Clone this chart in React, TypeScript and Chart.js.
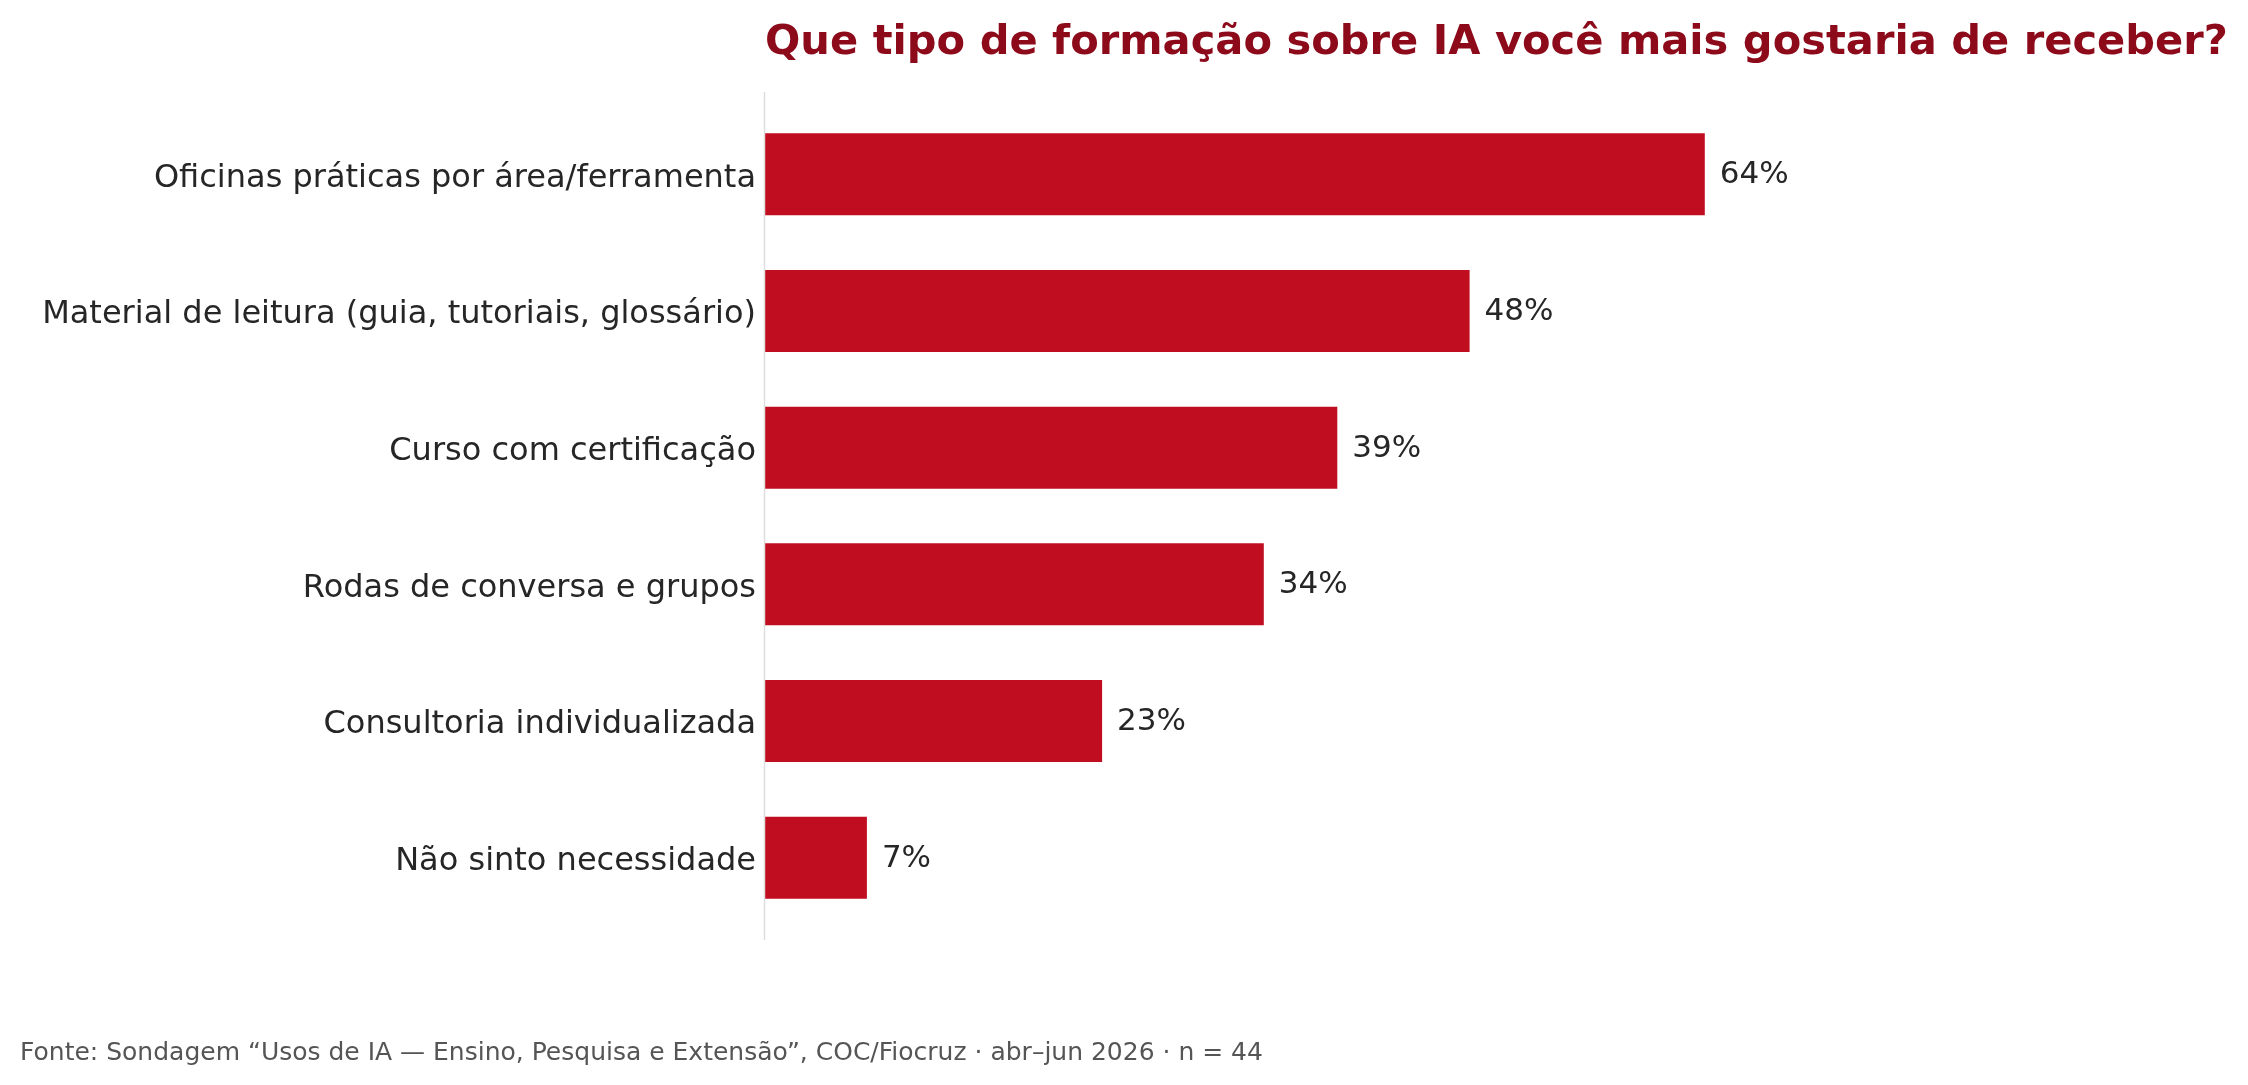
import React, { useEffect, useRef } from "react";
import { Chart, registerables } from "chart.js";

Chart.register(...registerables);

const categories = [
  "Oficinas práticas por área/ferramenta",
  "Material de leitura (guia, tutoriais, glossário)",
  "Curso com certificação",
  "Rodas de conversa e grupos",
  "Consultoria individualizada",
  "Não sinto necessidade",
];
const percents = [64, 48, 39, 34, 23, 7];

const TITLE = "Que tipo de formação sobre IA você mais gostaria de receber?";
const SOURCE =
  "Fonte: Sondagem “Usos de IA — Ensino, Pesquisa e Extensão”, COC/Fiocruz · abr–jun 2026 · n = 44";

const FONT = "'DejaVu Sans', sans-serif";

// axis line a bit longer than the category band, value labels and title/footer
const decorations = {
  id: "decorations",
  afterDatasetsDraw(chart: any) {
    const { ctx, chartArea } = chart;
    ctx.save();
    ctx.strokeStyle = "#dddddd";
    ctx.lineWidth = 1.5;
    ctx.beginPath();
    ctx.moveTo(chartArea.left - 0.5, chartArea.top - 14);
    ctx.lineTo(chartArea.left - 0.5, chartArea.bottom + 14);
    ctx.stroke();

    const meta = chart.getDatasetMeta(0);
    ctx.fillStyle = "#262626";
    ctx.font = `31px ${FONT}`;
    ctx.textAlign = "left";
    ctx.textBaseline = "middle";
    meta.data.forEach((bar: any, i: number) => {
      ctx.fillText(percents[i] + "%", bar.x + 14, bar.y + 1);
    });

    ctx.fillStyle = "#8c0a1a";
    ctx.font = `bold 41.6px ${FONT}`;
    ctx.textBaseline = "alphabetic";
    ctx.fillText(TITLE, chartArea.left, 54);

    ctx.fillStyle = "#555555";
    ctx.font = `25px ${FONT}`;
    ctx.fillText(SOURCE, 20, 1060);
    ctx.restore();
  },
};

const App = () => {
  const canvasRef = useRef<HTMLCanvasElement>(null);

  useEffect(() => {
    document.body.style.margin = "0";
    const chart = new Chart(canvasRef.current!, {
      type: "bar",
      data: {
        labels: categories,
        datasets: [
          {
            data: percents,
            backgroundColor: "#c00e20",
            borderColor: "rgba(255,255,255,0.7)",
            borderWidth: 1,
            barPercentage: 0.615,
            categoryPercentage: 1,
          },
        ],
      },
      options: {
        indexAxis: "y",
        responsive: false,
        animation: false,
        layout: { padding: { left: 10, right: 13, top: 106, bottom: 159 } },
        plugins: {
          legend: { display: false },
          tooltip: { enabled: false },
        },
        scales: {
          x: { display: false, min: 0, max: 100 },
          y: {
            afterFit: (scale: any) => {
              scale.width = 755;
            },
            border: { display: false },
            grid: { display: false, drawTicks: false },
            ticks: {
              padding: 9,
              labelOffset: 4,
              color: "#262626",
              font: { family: FONT, size: 32 },
            },
          },
        },
      },
      plugins: [decorations],
    });

    return () => {
      chart.destroy();
    };
  }, []);

  return (
    <div style={{ position: "absolute", left: 0, top: 0, width: 2248, height: 1085, background: "#fff" }}>
      <canvas ref={canvasRef} width={2248} height={1085}></canvas>
    </div>
  );
};

export default App;
